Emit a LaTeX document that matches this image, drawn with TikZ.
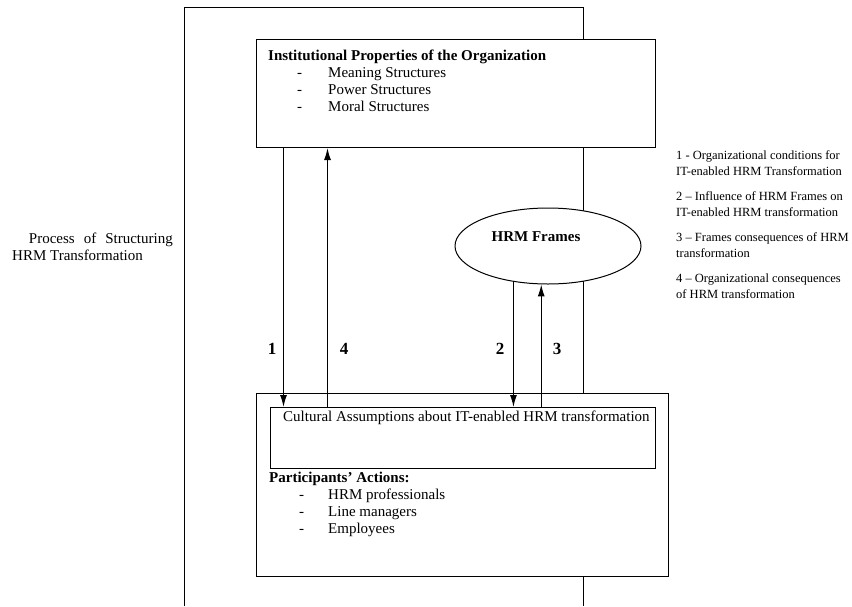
\documentclass[tikz,border=0pt]{standalone}
\usepackage{fontspec}
\setmainfont{Liberation Serif}
\usetikzlibrary{arrows.meta,shapes.geometric}
\begin{document}
\begin{tikzpicture}[x=1pt,y=-1pt,
  frame/.style={draw=black,line width=1pt},
  boxnode/.style={draw=black,line width=1pt,fill=white,rectangle,inner sep=0pt,anchor=north west},
  maintext/.style={font=\fontsize{15}{17}\selectfont,inner sep=0pt,anchor=base west},
  headtext/.style={font=\fontsize{15}{17}\selectfont\bfseries,inner sep=0pt,anchor=base west},
  legtext/.style={font=\fontsize{12.5}{14}\selectfont,inner sep=0pt,anchor=base west},
  numlabel/.style={font=\fontsize{17}{19}\selectfont\bfseries,inner sep=0pt},
  conn/.style={line width=1.2pt,-{Latex[length=12pt,width=7pt]}}
]
\useasboundingbox (0,0) rectangle (852,606);
% outer frame (open at bottom)
\coordinate (oTL) at (184,7);
\coordinate (oTR) at (583,7);
\coordinate (oBL) at (184,606);
\coordinate (oBR) at (583,606);
\draw[frame] (oBL) -- (oTL) -- (oTR) -- (oBR);

% top box
\node[boxnode,minimum width=399pt,minimum height=108pt] (top) at (256,39) {};
\node[headtext] (t0) at (268,60) {Institutional Properties of the Organization};
\node[maintext] (t1d) at (297,77) {-};
\node[maintext] (t1) at (328,77) {Meaning Structures};
\node[maintext] (t2d) at (297,94) {-};
\node[maintext] (t2) at (328,94) {Power Structures};
\node[maintext] (t3d) at (297,111) {-};
\node[maintext] (t3) at (328,111) {Moral Structures};

% ellipse
\node[draw=black,line width=1pt,fill=white,ellipse,minimum width=186pt,minimum height=76pt,inner sep=0pt] (ell) at (548,246) {};
\node[headtext,anchor=base] (ellt) at (536,241) {HRM Frames};

% bottom box
\node[boxnode,minimum width=412pt,minimum height=183pt] (bot) at (256,393) {};
\node[boxnode,minimum width=385pt,minimum height=61pt] (inner) at (270,407) {};
\node[maintext] (c0) at (283,421) {Cultural Assumptions about IT-enabled HRM transformation};
\node[headtext] (p0) at (269,482) {Participants' Actions:};
\node[maintext] (p1d) at (299,499) {-};
\node[maintext] (p1) at (328,499) {HRM professionals};
\node[maintext] (p2d) at (299,516) {-};
\node[maintext] (p2) at (328,516) {Line managers};
\node[maintext] (p3d) at (299,533) {-};
\node[maintext] (p3) at (328,533) {Employees};

% connectors
\coordinate (x1) at (283.5,0);
\coordinate (x4) at (327.5,0);
\draw[conn] (top.south -| x1) -- (inner.north -| x1);
\draw[conn] (inner.north -| x4) -- (top.south -| x4);
\draw[conn] (ell.-134.8) -- (ell.-134.8 |- inner.north);
\draw[conn] (ell.-100.5 |- inner.north) -- (ell.-100.5);

\node[numlabel] (n1) at (272,349) {1};
\node[numlabel] (n4) at (344,349) {4};
\node[numlabel] (n2) at (500,349) {2};
\node[numlabel] (n3) at (557,349) {3};

% left label
\node[maintext,anchor=base east] (l1) at (173,243) {Process\hspace{9pt}of\hspace{9pt}Structuring};
\node[maintext] (l2) at (12,260) {HRM Transformation};

% legend
\node[legtext] (g1a) at (676,159) {1 - Organizational conditions for};
\node[legtext] (g1b) at (676,175) {IT-enabled HRM Transformation};
\node[legtext] (g2a) at (676,200) {2 -- Influence of HRM Frames on};
\node[legtext] (g2b) at (676,216) {IT-enabled HRM transformation};
\node[legtext] (g3a) at (676,241) {3 -- Frames consequences of HRM};
\node[legtext] (g3b) at (676,257) {transformation};
\node[legtext] (g4a) at (676,282) {4 -- Organizational consequences};
\node[legtext] (g4b) at (676,298) {of HRM transformation};
\end{tikzpicture}
\end{document}
